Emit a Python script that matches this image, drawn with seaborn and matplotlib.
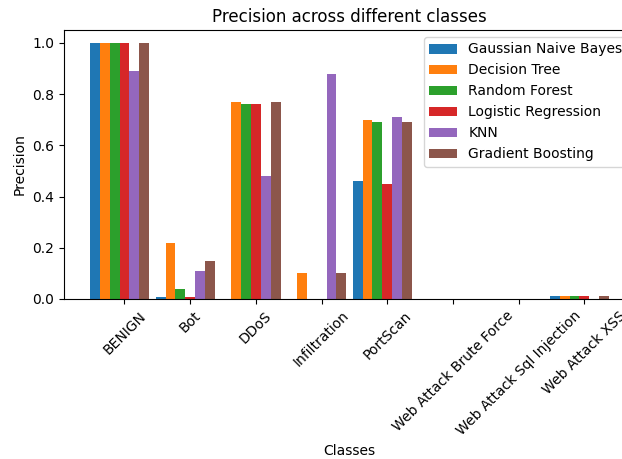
import numpy as np
import pandas as pd
import matplotlib
matplotlib.use("Agg")
import matplotlib.pyplot as plt
import seaborn as sns

# Data
classes = ["BENIGN", "Bot", "DDoS", "Infiltration", "PortScan",
           "Web Attack Brute Force", "Web Attack Sql Injection", "Web Attack XSS"]
models = ["Gaussian Naive Bayes", "Decision Tree", "Random Forest",
          "Logistic Regression", "KNN", "Gradient Boosting"]

gaussian_nb = [1.00, 0.007, 0.00, 0.00, 0.46, 0.00, 0.00, 0.01]
decision_tree = [1.00, 0.22, 0.77, 0.10, 0.70, 0.00, 0.00, 0.01]
random_forest = [1.00, 0.04, 0.76, 0.00, 0.69, 0.00, 0.00, 0.01]
logistic_reg = [1.00, 0.007, 0.76, 0.00, 0.45, 0.00, 0.00, 0.01]
knn = [0.89, 0.11, 0.48, 0.88, 0.71, 0.00, 0.00, 0.00]
grad_boost = [1.00, 0.15, 0.77, 0.10, 0.69, 0.00, 0.00, 0.01]

scores = [gaussian_nb, decision_tree, random_forest, logistic_reg, knn, grad_boost]


def create_plot(output_file="out.png"):
    rows = []
    for model, vals in zip(models, scores):
        for cls, v in zip(classes, vals):
            rows.append({"Classes": cls, "Model": model, "Precision": v})
    df = pd.DataFrame(rows)

    fig = plt.figure(figsize=(6.22, 4.59), dpi=100)
    # axes runs a little past the right edge, like the cropped original
    ax = fig.add_axes([64 / 622, 160 / 459, 571 / 622, 269 / 459])

    sns.barplot(data=df, x="Classes", y="Precision", hue="Model",
                order=classes, hue_order=models, palette="tab10",
                saturation=1, width=0.9, errorbar=None, ax=ax)

    ax.set_xlim(-0.845, 7.845)
    ax.set_ylim(0, 1.05)
    ax.set_xticks(np.arange(len(classes)) + 0.075)
    ax.set_xticklabels(classes, rotation=45)
    ax.set_title("Precision across different classes")
    ax.set_xlabel("Classes")
    ax.set_ylabel("Precision")

    handles, labels = ax.get_legend_handles_labels()
    ax.legend(handles, labels, loc="upper right")

    fig.savefig(output_file, dpi=100)
    plt.close(fig)


if __name__ == "__main__":
    create_plot()
